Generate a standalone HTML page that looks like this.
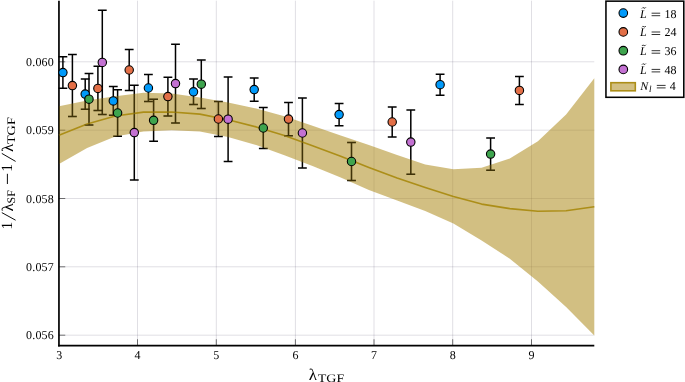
<!DOCTYPE html><html><head><meta charset="utf-8"><style>html,body{margin:0;padding:0;background:#fff}svg{display:block;will-change:transform;opacity:0.9999}text{font-family:"Liberation Serif",serif;fill:#000;text-rendering:geometricPrecision}</style></head><body>
<svg width="685" height="382" viewBox="0 0 685 382">
<rect width="685" height="382" fill="#fff"/>
<g stroke="#0c0630" stroke-opacity="0.145" stroke-width="0.9" fill="none">
<line x1="137.5" y1="0.7" x2="137.5" y2="345.55"/>
<line x1="216.3" y1="0.7" x2="216.3" y2="345.55"/>
<line x1="295.4" y1="0.7" x2="295.4" y2="345.55"/>
<line x1="374.0" y1="0.7" x2="374.0" y2="345.55"/>
<line x1="452.7" y1="0.7" x2="452.7" y2="345.55"/>
<line x1="531.5" y1="0.7" x2="531.5" y2="345.55"/>
<line x1="58.95" y1="61.8" x2="594.3" y2="61.8"/>
<line x1="58.95" y1="130.2" x2="594.3" y2="130.2"/>
<line x1="58.95" y1="198.5" x2="594.3" y2="198.5"/>
<line x1="58.95" y1="266.8" x2="594.3" y2="266.8"/>
<line x1="58.95" y1="335.2" x2="594.3" y2="335.2"/>
</g>
<g stroke="#000" stroke-width="1.5" fill="none">
<path d="M62.9 56.85V88.35M58.50 56.85H67.30M58.50 88.35H67.30"/>
<path d="M85.2 78.90V109.30M80.80 78.90H89.60M80.80 109.30H89.60"/>
<path d="M113.3 86.60V115.20M108.90 86.60H117.70M108.90 115.20H117.70"/>
<path d="M148.4 74.50V101.50M144.00 74.50H152.80M144.00 101.50H152.80"/>
<path d="M193.5 79.00V104.60M189.10 79.00H197.90M189.10 104.60H197.90"/>
<path d="M254.2 77.90V101.30M249.80 77.90H258.60M249.80 101.30H258.60"/>
<path d="M339.1 103.45V125.75M334.70 103.45H343.50M334.70 125.75H343.50"/>
<path d="M440.1 74.20V95.20M435.70 74.20H444.50M435.70 95.20H444.50"/>
<path d="M72.4 54.60V116.60M68.00 54.60H76.80M68.00 116.60H76.80"/>
<path d="M97.9 66.35V110.45M93.50 66.35H102.30M93.50 110.45H102.30"/>
<path d="M129.2 49.60V90.40M124.80 49.60H133.60M124.80 90.40H133.60"/>
<path d="M167.9 77.20V116.00M163.50 77.20H172.30M163.50 116.00H172.30"/>
<path d="M218.4 101.50V136.50M214.00 101.50H222.80M214.00 136.50H222.80"/>
<path d="M288.5 102.55V135.65M284.10 102.55H292.90M284.10 135.65H292.90"/>
<path d="M392.2 106.95V137.05M387.80 106.95H396.60M387.80 137.05H396.60"/>
<path d="M519.4 76.40V104.40M515.00 76.40H523.80M515.00 104.40H523.80"/>
<path d="M89.0 73.40V125.00M84.60 73.40H93.40M84.60 125.00H93.40"/>
<path d="M117.6 89.65V136.35M113.20 89.65H122.00M113.20 136.35H122.00"/>
<path d="M153.6 99.35V141.25M149.20 99.35H158.00M149.20 141.25H158.00"/>
<path d="M201.3 60.00V108.40M196.90 60.00H205.70M196.90 108.40H205.70"/>
<path d="M263.3 107.45V148.55M258.90 107.45H267.70M258.90 148.55H267.70"/>
<path d="M351.5 142.60V180.40M347.10 142.60H355.90M347.10 180.40H355.90"/>
<path d="M490.6 137.95V170.25M486.20 137.95H495.00M486.20 170.25H495.00"/>
<path d="M102.3 10.30V114.50M97.90 10.30H106.70M97.90 114.50H106.70"/>
<path d="M134.3 85.30V179.90M129.90 85.30H138.70M129.90 179.90H138.70"/>
<path d="M175.5 44.15V123.05M171.10 44.15H179.90M171.10 123.05H179.90"/>
<path d="M228.1 76.90V161.50M223.70 76.90H232.50M223.70 161.50H232.50"/>
<path d="M302.4 98.10V167.90M298.00 98.10H306.80M298.00 167.90H306.80"/>
<path d="M410.8 109.90V174.30M406.40 109.90H415.20M406.40 174.30H415.20"/>
</g>
<g stroke="#000" stroke-width="1.7" fill="none"><line x1="58.95" y1="0.7" x2="58.95" y2="346.40000000000003"/><line x1="58.1" y1="345.55" x2="594.3" y2="345.55"/></g>
<g stroke="#000" stroke-opacity="0.75" stroke-width="0.7" fill="none">
<line x1="137.5" y1="345.55" x2="137.5" y2="339.25"/>
<line x1="216.3" y1="345.55" x2="216.3" y2="339.25"/>
<line x1="295.4" y1="345.55" x2="295.4" y2="339.25"/>
<line x1="374.0" y1="345.55" x2="374.0" y2="339.25"/>
<line x1="452.7" y1="345.55" x2="452.7" y2="339.25"/>
<line x1="531.5" y1="345.55" x2="531.5" y2="339.25"/>
<line x1="58.95" y1="61.8" x2="65.25" y2="61.8"/>
<line x1="58.95" y1="130.2" x2="65.25" y2="130.2"/>
<line x1="58.95" y1="198.5" x2="65.25" y2="198.5"/>
<line x1="58.95" y1="266.8" x2="65.25" y2="266.8"/>
<line x1="58.95" y1="335.2" x2="65.25" y2="335.2"/>
</g>
<polygon points="59.0,106.3 87.1,100.4 115.3,96.2 143.5,92.7 171.7,93.5 199.8,97.4 228.0,102.4 256.2,108.6 284.4,116.2 312.5,125.8 340.7,135.4 368.9,145.0 397.1,155.0 425.2,164.4 453.4,169.2 481.6,167.8 509.8,158.6 537.9,141.3 566.1,114.6 594.3,78.3 594.3,335.4 566.1,307.0 537.9,281.5 509.8,258.7 481.6,240.5 453.4,223.5 425.2,211.1 397.1,200.6 368.9,190.0 340.7,177.5 312.5,166.1 284.4,155.3 256.2,145.0 228.0,137.1 199.8,131.4 171.7,130.3 143.5,131.5 115.3,136.5 87.1,148.0 59.0,164.1" fill="#AC8918" fill-opacity="0.54"/>
<polyline points="59.0,135.2 87.1,124.1 115.3,116.0 143.5,112.1 171.7,112.0 199.8,114.1 228.0,119.8 256.2,126.9 284.4,135.6 312.5,145.8 340.7,156.2 368.9,167.4 397.1,178.0 425.2,187.5 453.4,196.5 481.6,204.1 509.8,208.6 537.9,211.2 566.1,210.8 594.3,206.8" fill="none" stroke="#AC8E18" stroke-width="1.6" stroke-linejoin="round"/>
<clipPath id="bc"><polygon points="59.0,106.3 87.1,100.4 115.3,96.2 143.5,92.7 171.7,93.5 199.8,97.4 228.0,102.4 256.2,108.6 284.4,116.2 312.5,125.8 340.7,135.4 368.9,145.0 397.1,155.0 425.2,164.4 453.4,169.2 481.6,167.8 509.8,158.6 537.9,141.3 566.1,114.6 594.3,78.3 594.3,335.4 566.1,307.0 537.9,281.5 509.8,258.7 481.6,240.5 453.4,223.5 425.2,211.1 397.1,200.6 368.9,190.0 340.7,177.5 312.5,166.1 284.4,155.3 256.2,145.0 228.0,137.1 199.8,131.4 171.7,130.3 143.5,131.5 115.3,136.5 87.1,148.0 59.0,164.1"/></clipPath>
<g stroke="#000" stroke-opacity="0.32" stroke-width="1.5" fill="none" clip-path="url(#bc)">
<path d="M62.9 56.85V88.35M58.50 56.85H67.30M58.50 88.35H67.30"/>
<path d="M85.2 78.90V109.30M80.80 78.90H89.60M80.80 109.30H89.60"/>
<path d="M113.3 86.60V115.20M108.90 86.60H117.70M108.90 115.20H117.70"/>
<path d="M148.4 74.50V101.50M144.00 74.50H152.80M144.00 101.50H152.80"/>
<path d="M193.5 79.00V104.60M189.10 79.00H197.90M189.10 104.60H197.90"/>
<path d="M254.2 77.90V101.30M249.80 77.90H258.60M249.80 101.30H258.60"/>
<path d="M339.1 103.45V125.75M334.70 103.45H343.50M334.70 125.75H343.50"/>
<path d="M440.1 74.20V95.20M435.70 74.20H444.50M435.70 95.20H444.50"/>
<path d="M72.4 54.60V116.60M68.00 54.60H76.80M68.00 116.60H76.80"/>
<path d="M97.9 66.35V110.45M93.50 66.35H102.30M93.50 110.45H102.30"/>
<path d="M129.2 49.60V90.40M124.80 49.60H133.60M124.80 90.40H133.60"/>
<path d="M167.9 77.20V116.00M163.50 77.20H172.30M163.50 116.00H172.30"/>
<path d="M218.4 101.50V136.50M214.00 101.50H222.80M214.00 136.50H222.80"/>
<path d="M288.5 102.55V135.65M284.10 102.55H292.90M284.10 135.65H292.90"/>
<path d="M392.2 106.95V137.05M387.80 106.95H396.60M387.80 137.05H396.60"/>
<path d="M519.4 76.40V104.40M515.00 76.40H523.80M515.00 104.40H523.80"/>
<path d="M89.0 73.40V125.00M84.60 73.40H93.40M84.60 125.00H93.40"/>
<path d="M117.6 89.65V136.35M113.20 89.65H122.00M113.20 136.35H122.00"/>
<path d="M153.6 99.35V141.25M149.20 99.35H158.00M149.20 141.25H158.00"/>
<path d="M201.3 60.00V108.40M196.90 60.00H205.70M196.90 108.40H205.70"/>
<path d="M263.3 107.45V148.55M258.90 107.45H267.70M258.90 148.55H267.70"/>
<path d="M351.5 142.60V180.40M347.10 142.60H355.90M347.10 180.40H355.90"/>
<path d="M490.6 137.95V170.25M486.20 137.95H495.00M486.20 170.25H495.00"/>
<path d="M102.3 10.30V114.50M97.90 10.30H106.70M97.90 114.50H106.70"/>
<path d="M134.3 85.30V179.90M129.90 85.30H138.70M129.90 179.90H138.70"/>
<path d="M175.5 44.15V123.05M171.10 44.15H179.90M171.10 123.05H179.90"/>
<path d="M228.1 76.90V161.50M223.70 76.90H232.50M223.70 161.50H232.50"/>
<path d="M302.4 98.10V167.90M298.00 98.10H306.80M298.00 167.90H306.80"/>
<path d="M410.8 109.90V174.30M406.40 109.90H415.20M406.40 174.30H415.20"/>
<line x1="58.95" y1="90" x2="58.95" y2="170" stroke-width="1.7" stroke-opacity="0.5"/>
</g>
<g fill="#009AFA" stroke="#000" stroke-width="1.1">
<circle cx="62.9" cy="72.6" r="4.2"/>
<circle cx="85.2" cy="94.1" r="4.2"/>
<circle cx="113.3" cy="100.9" r="4.2"/>
<circle cx="148.4" cy="88.0" r="4.2"/>
<circle cx="193.5" cy="91.8" r="4.2"/>
<circle cx="254.2" cy="89.6" r="4.2"/>
<circle cx="339.1" cy="114.6" r="4.2"/>
<circle cx="440.1" cy="84.7" r="4.2"/>
</g>
<g fill="#E36F47" stroke="#000" stroke-width="1.1">
<circle cx="72.4" cy="85.6" r="4.2"/>
<circle cx="97.9" cy="88.4" r="4.2"/>
<circle cx="129.2" cy="70.0" r="4.2"/>
<circle cx="167.9" cy="96.6" r="4.2"/>
<circle cx="218.4" cy="119.0" r="4.2"/>
<circle cx="288.5" cy="119.1" r="4.2"/>
<circle cx="392.2" cy="122.0" r="4.2"/>
<circle cx="519.4" cy="90.4" r="4.2"/>
</g>
<g fill="#3EA44E" stroke="#000" stroke-width="1.1">
<circle cx="89.0" cy="99.2" r="4.2"/>
<circle cx="117.6" cy="113.0" r="4.2"/>
<circle cx="153.6" cy="120.3" r="4.2"/>
<circle cx="201.3" cy="84.2" r="4.2"/>
<circle cx="263.3" cy="128.0" r="4.2"/>
<circle cx="351.5" cy="161.5" r="4.2"/>
<circle cx="490.6" cy="154.1" r="4.2"/>
</g>
<g fill="#C371D2" stroke="#000" stroke-width="1.1">
<circle cx="102.3" cy="62.4" r="4.2"/>
<circle cx="134.3" cy="132.6" r="4.2"/>
<circle cx="175.5" cy="83.6" r="4.2"/>
<circle cx="228.1" cy="119.2" r="4.2"/>
<circle cx="302.4" cy="133.0" r="4.2"/>
<circle cx="410.8" cy="142.1" r="4.2"/>
</g>
<g font-size="12px">
<text x="59.3" y="358.8" text-anchor="middle">3</text>
<text x="137.5" y="358.8" text-anchor="middle">4</text>
<text x="216.3" y="358.8" text-anchor="middle">5</text>
<text x="295.4" y="358.8" text-anchor="middle">6</text>
<text x="374.0" y="358.8" text-anchor="middle">7</text>
<text x="452.7" y="358.8" text-anchor="middle">8</text>
<text x="531.5" y="358.8" text-anchor="middle">9</text>
<text x="54.0" y="66.0" text-anchor="end" letter-spacing="0.2">0.060</text>
<text x="54.0" y="134.4" text-anchor="end" letter-spacing="0.2">0.059</text>
<text x="54.0" y="202.7" text-anchor="end" letter-spacing="0.2">0.058</text>
<text x="54.0" y="271.0" text-anchor="end" letter-spacing="0.2">0.057</text>
<text x="54.0" y="339.4" text-anchor="end" letter-spacing="0.2">0.056</text>
</g>
<text transform="translate(308.8,379.7) scale(1.05,1)" x="0" y="0" font-size="16.2px">λ</text>
<text x="317.8" y="381.7" font-size="11.5px" textLength="26.5" lengthAdjust="spacingAndGlyphs">TGF</text>
<g transform="translate(12.4,228.4) rotate(-90)">
<text x="-1.2" y="0" font-size="15.6px">1</text>
<line x1="8.2" y1="3.2" x2="15.8" y2="-10.6" stroke="#000" stroke-width="0.95"/>
<text transform="translate(16.9,0.4) scale(1.05,1)" x="0" y="0" font-size="16.2px">λ</text>
<text x="25.0" y="2.5" font-size="11.5px" textLength="13.2" lengthAdjust="spacingAndGlyphs">SF</text>
<line x1="44.4" y1="-5.0" x2="54.6" y2="-5.0" stroke="#000" stroke-width="0.95"/>
<text x="56.6" y="0" font-size="15.6px">1</text>
<line x1="67.0" y1="3.2" x2="75.0" y2="-10.6" stroke="#000" stroke-width="0.95"/>
<text transform="translate(76.3,0.4) scale(1.05,1)" x="0" y="0" font-size="16.2px">λ</text>
<text x="84.3" y="2.5" font-size="11.5px" textLength="27" lengthAdjust="spacingAndGlyphs">TGF</text>
</g>
<rect x="605.95" y="1.15" width="77.85" height="96.15" fill="#fff" stroke="#000" stroke-width="1.55"/>
<circle cx="623.3" cy="13.1" r="4.3" fill="#009AFA" stroke="#000" stroke-width="1.1"/>
<text x="640.1" y="17.5" font-size="12px" font-style="italic">L</text>
<path d="M641.9 8.5q0.95 -1.7 2.0 -0.6t2.0 -0.6" stroke="#000" stroke-width="0.75" fill="none"/>
<path d="M651.6 13.2H660.2M651.6 15.7H660.2" stroke="#000" stroke-width="0.8" fill="none"/>
<text x="664.4" y="17.5" font-size="12px">18</text>
<circle cx="623.3" cy="31.9" r="4.3" fill="#E36F47" stroke="#000" stroke-width="1.1"/>
<text x="640.1" y="36.3" font-size="12px" font-style="italic">L</text>
<path d="M641.9 27.3q0.95 -1.7 2.0 -0.6t2.0 -0.6" stroke="#000" stroke-width="0.75" fill="none"/>
<path d="M651.6 32.0H660.2M651.6 34.5H660.2" stroke="#000" stroke-width="0.8" fill="none"/>
<text x="664.4" y="36.3" font-size="12px">24</text>
<circle cx="623.3" cy="50.7" r="4.3" fill="#3EA44E" stroke="#000" stroke-width="1.1"/>
<text x="640.1" y="55.0" font-size="12px" font-style="italic">L</text>
<path d="M641.9 46.0q0.95 -1.7 2.0 -0.6t2.0 -0.6" stroke="#000" stroke-width="0.75" fill="none"/>
<path d="M651.6 50.7H660.2M651.6 53.2H660.2" stroke="#000" stroke-width="0.8" fill="none"/>
<text x="664.4" y="55.0" font-size="12px">36</text>
<circle cx="623.3" cy="69.4" r="4.3" fill="#C371D2" stroke="#000" stroke-width="1.1"/>
<text x="640.1" y="73.7" font-size="12px" font-style="italic">L</text>
<path d="M641.9 64.7q0.95 -1.7 2.0 -0.6t2.0 -0.6" stroke="#000" stroke-width="0.75" fill="none"/>
<path d="M651.6 69.4H660.2M651.6 71.9H660.2" stroke="#000" stroke-width="0.8" fill="none"/>
<text x="664.4" y="73.7" font-size="12px">48</text>
<rect x="610.9" y="82.7" width="24.4" height="8.1" fill="#AC8918" fill-opacity="0.54" stroke="#AC8E18" stroke-width="1.6"/>
<text x="640.3" y="89.5" font-size="12px" font-style="italic">N</text>
<text x="649.0" y="91.8" font-size="9px" font-style="italic">l</text>
<path d="M656.8 85.4H665.6M656.8 87.9H665.6" stroke="#000" stroke-width="0.8" fill="none"/>
<text x="669.8" y="89.5" font-size="12px">4</text>
</svg></body></html>
